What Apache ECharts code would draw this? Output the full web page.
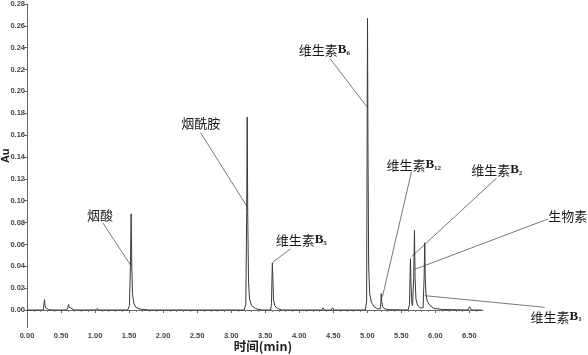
<!DOCTYPE html>
<html>
<head>
<meta charset="utf-8">
<script src="https://cdn.jsdelivr.net/npm/echarts@6/dist/echarts.min.js"></script>
<style>html,body{margin:0;padding:0;background:#fff}#c{width:588px;height:355px}</style>
</head>
<body>
<div id="c"></div>
<script>
// retention time (min)
const timeMin = [
  0.00, 0.20, 0.24, 0.250, 0.257, 0.265, 0.28, 0.32, 0.40,
  0.58, 0.600, 0.610, 0.620, 0.64, 0.70,
  1.00, 1.030, 1.06,
  1.48, 1.505, 1.520, 1.530, 1.540, 1.550, 1.57, 1.60, 1.66, 1.80,
  3.19, 3.215, 3.228, 3.235, 3.243, 3.255, 3.27, 3.30, 3.36, 3.45,
  3.58, 3.592, 3.600, 3.605, 3.612, 3.622, 3.64, 3.68, 3.75,
  4.33, 4.35, 4.37, 4.47, 4.49, 4.51,
  4.97, 4.990, 4.997, 5.003, 5.010, 5.020, 5.035, 5.06, 5.10, 5.15,
  5.19, 5.200, 5.205, 5.212, 5.225, 5.26, 5.32,
  5.60, 5.620, 5.628, 5.634, 5.642, 5.655, 5.665, 5.682, 5.693, 5.702, 5.715, 5.74, 5.78,
  5.82, 5.835, 5.844, 5.852, 5.862, 5.88, 5.92, 5.98, 6.10,
  6.48, 6.505, 6.53, 6.68
];
// absorbance (AU)
const absorbance = [
  0.0000, 0.0000, 0.0002, 0.0060, 0.0095, 0.0040, 0.0015, 0.0003, 0.0000,
  0.0000, 0.0020, 0.0050, 0.0025, 0.0008, 0.0000,
  0.0000, 0.0012, 0.0000,
  0.0000, 0.0040, 0.0400, 0.0880, 0.0400, 0.0150, 0.0060, 0.0025, 0.0008, 0.0000,
  0.0000, 0.0050, 0.0900, 0.1765, 0.0900, 0.0250, 0.0100, 0.0040, 0.0012, 0.0000,
  0.0000, 0.0060, 0.0300, 0.0430, 0.0300, 0.0100, 0.0040, 0.0012, 0.0000,
  0.0000, 0.0020, 0.0000, 0.0000, 0.0020, 0.0000,
  0.0000, 0.0080, 0.1500, 0.2670, 0.1500, 0.0400, 0.0150, 0.0070, 0.0030, 0.0012,
  0.0010, 0.0080, 0.0150, 0.0080, 0.0030, 0.0010, 0.0003,
  0.0000, 0.0050, 0.0300, 0.0470, 0.0250, 0.0060, 0.0040, 0.0300, 0.0730, 0.0300, 0.0100, 0.0040, 0.0020,
  0.0020, 0.0300, 0.0615, 0.0300, 0.0150, 0.0080, 0.0040, 0.0015, 0.0005,
  0.0000, 0.0030, 0.0000, 0.0000
];
const xTickValues = [0, 0.5, 1, 1.5, 2, 2.5, 3, 3.5, 4, 4.5, 5, 5.5, 6, 6.5];
const yTickValues = [0, 0.02, 0.04, 0.06, 0.08, 0.10, 0.12, 0.14, 0.16, 0.18, 0.20, 0.22, 0.24, 0.26, 0.28];

// peak annotations: name, subscript, text anchor, leader start, leader end (data coords)
const peakNames = ['烟酸', '烟酰胺', '维生素', '维生素', '维生素', '维生素', '生物素', '维生素'];
const peakSubs  = ['', '', 'B5', 'B6', 'B12', 'B2', '', 'B1'];
const labelAt   = [[1.072, 0.0869], [2.552, 0.1708], [4.030, 0.0640], [4.369, 0.2379], [5.683, 0.1327], [6.902, 0.1280], [7.945, 0.0860], [7.775, -0.0061]];
const leadFrom  = [[1.116, 0.0796], [2.551, 0.1622], [3.869, 0.0558], [4.449, 0.2303], [5.649, 0.1265], [6.897, 0.1205], [7.655, 0.0833], [7.606, 0.0025]];
const leadTo    = [[1.535, 0.0398], [3.235, 0.0945], [3.605, 0.0435], [4.993, 0.1860], [5.223, 0.0122], [5.649, 0.0488], [5.697, 0.0372], [5.844, 0.0131]];

const chart = echarts.init(document.getElementById('c'), null, {renderer: 'canvas'});
const axisFont = {color: '#444', fontSize: 7.5, fontWeight: 'bold', fontFamily: 'Liberation Sans'};
chart.setOption({
  animation: false,
  backgroundColor: '#fff',
  grid: {left: 27, right: 105, top: 4, bottom: 27.5, containLabel: false, outerBoundsMode: 'none'},
  xAxis: {
    type: 'value', min: 0, max: 6.7, interval: 0.5,
    name: '时间(min)', nameLocation: 'middle', nameGap: 12, nameMoveOverlap: false,
    nameTextStyle: {color: '#222', fontSize: 12.5, fontWeight: 'bold', fontFamily: 'Noto Sans CJK SC', padding: [0, 0, 0, 16]},
    axisLine: {lineStyle: {color: '#666', width: 1}},
    axisTick: {show: true, length: 3, inside: false, customValues: xTickValues, lineStyle: {color: '#666'}},
    minorTick: {show: true, splitNumber: 5, length: 2, lineStyle: {color: '#888'}},
    axisLabel: Object.assign({margin: 4, customValues: xTickValues, formatter: v => v.toFixed(2)}, axisFont),
    splitLine: {show: false}, minorSplitLine: {show: false}
  },
  yAxis: {
    type: 'value', min: -0.016, max: 0.28,
    name: 'Au', nameLocation: 'middle', nameGap: 16, nameMoveOverlap: false,
    nameTextStyle: {color: '#222', fontSize: 11, fontWeight: 'bold', fontFamily: 'Liberation Sans', padding: [0, 0, 0, 20]},
    axisLine: {show: true, lineStyle: {color: '#666', width: 1}},
    axisTick: {show: true, length: 3, inside: false, customValues: yTickValues, lineStyle: {color: '#666'}},
    axisLabel: Object.assign({margin: 2, customValues: yTickValues, formatter: v => v.toFixed(2)}, axisFont),
    splitLine: {show: false}
  },
  series: [{
    type: 'line',
    data: timeMin.map((t, i) => [t, absorbance[i]]),
    showSymbol: false, symbol: 'none',
    lineStyle: {color: '#3a3a3a', width: 1},
    clip: true
  }]
});

// leader lines + labels placed through the chart's own coordinate conversion
const graphics = [];
const toPx = p => chart.convertToPixel({gridIndex: 0}, p);
for (let i = 0; i < peakNames.length; i++) {
  const a = toPx(leadFrom[i]), b = toPx(leadTo[i]), c = toPx(labelAt[i]);
  graphics.push({type: 'line', silent: true, shape: {x1: a[0], y1: a[1], x2: b[0], y2: b[1]},
    style: {stroke: '#555', lineWidth: 0.8}});
  const sub = peakSubs[i];
  const txt = sub ? '{a|' + peakNames[i] + '}{b|B}{s|' + sub.slice(1) + '}' : '{a|' + peakNames[i] + '}';
  graphics.push({type: 'text', silent: true, x: c[0], y: c[1],
    style: {text: txt, align: 'center', verticalAlign: 'middle',
      rich: {
        a: {fontSize: 13, fontFamily: 'Noto Sans CJK SC', fill: '#1a1a1a', color: '#1a1a1a'},
        b: {fontSize: 13, fontFamily: 'Liberation Serif', fontWeight: 'bold', fill: '#1a1a1a', color: '#1a1a1a'},
        s: {fontSize: 7, fontFamily: 'Liberation Serif', fontWeight: 'bold', fill: '#1a1a1a', color: '#1a1a1a', padding: [6, 0, 0, 0]}
      }}});
}
chart.setOption({graphic: graphics});
</script>
</body>
</html>
